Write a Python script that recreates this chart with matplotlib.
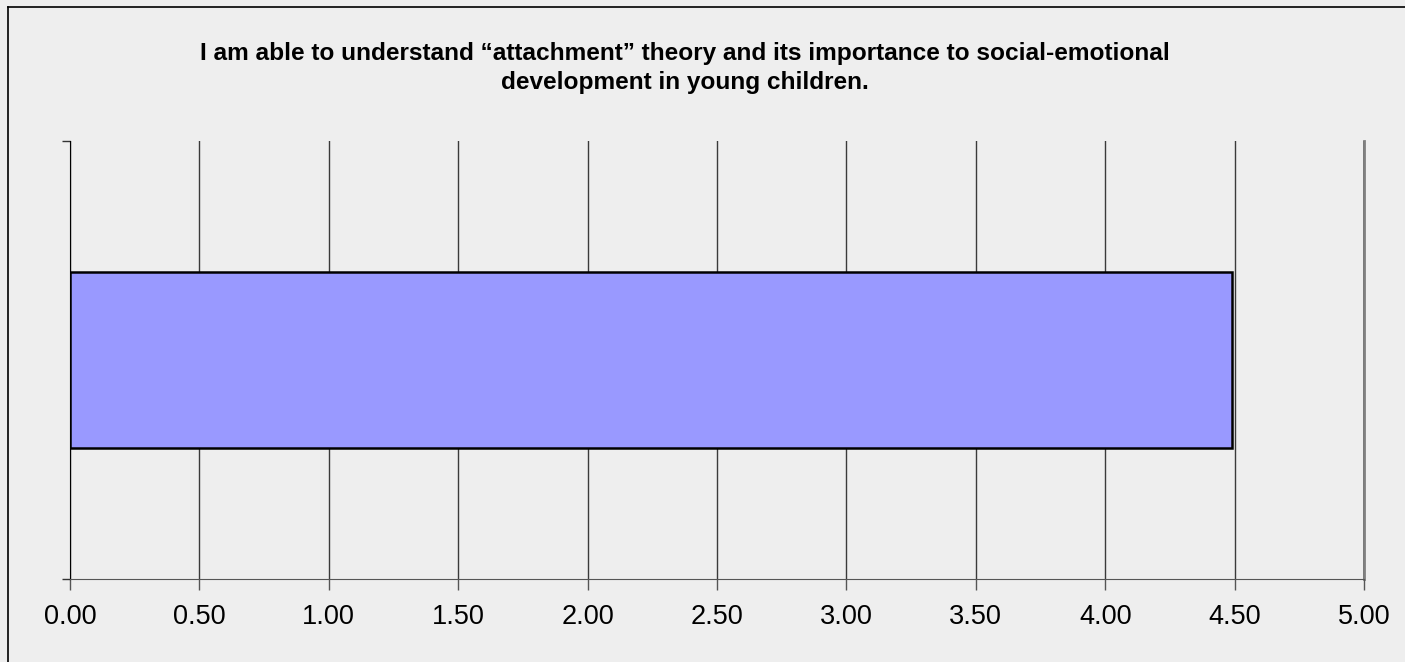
import numpy as np
import matplotlib.pyplot as plt
from matplotlib.lines import Line2D

#--------data--------
title = ("I am able to understand \u201cattachment\u201d theory and its importance to social-emotional\n"
         "development in young children.")
categories = [""]
values = [4.49]
xticks = [0.0, 0.5, 1.0, 1.5, 2.0, 2.5, 3.0, 3.5, 4.0, 4.5, 5.0]
#--------data end--------

W, H = 1405, 662
fig = plt.figure(figsize=(W / 100, H / 100), dpi=100)
fig.patch.set_facecolor("#eeeeee")

# outer frame (left and top edges visible)
fig.add_artist(Line2D([8 / W, 8 / W], [0, 1 - 7 / H], color="black", lw=1.2, transform=fig.transFigure))
fig.add_artist(Line2D([8 / W, 1], [1 - 7 / H, 1 - 7 / H], color="black", lw=1.2, transform=fig.transFigure))

ax = fig.add_axes([70 / W, 1 - 579 / H, (1364 - 70) / W, (579 - 141) / H])
ax.set_facecolor("#eeeeee")

ypos = np.arange(len(categories))
ax.barh(ypos, values, height=0.4, color="#9999ff", edgecolor="black", linewidth=1.8, zorder=3)

ax.set_xlim(0, 5)
ax.set_ylim(-0.5, 0.5)
ax.set_xticks(xticks)
ax.set_xticklabels(["%.2f" % v for v in xticks], fontsize=19.5, family=["Liberation Sans", "DejaVu Sans"])
ax.tick_params(axis="x", length=8, width=1, color="#555555", pad=10)
ax.set_yticks([-0.5, 0.5])
ax.set_yticklabels([])
ax.tick_params(axis="y", length=6, width=1, color="#333333")

ax.grid(axis="x", color="#3a3a3a", linewidth=1, zorder=0)
ax.axvline(xticks[-1], color="#808080", linewidth=2, zorder=1, clip_on=False)
for name in ["top", "right"]:
    ax.spines[name].set_visible(False)
ax.spines["left"].set_color("black")
ax.spines["bottom"].set_color("#555555")

fig.text(685 / W, 1 - 68 / H, title, ha="center", va="center", fontsize=17.6, fontweight="bold",
         family=["Liberation Sans", "DejaVu Sans"], linespacing=1.28)

fig.savefig("out.png", dpi=100, facecolor=fig.get_facecolor())
